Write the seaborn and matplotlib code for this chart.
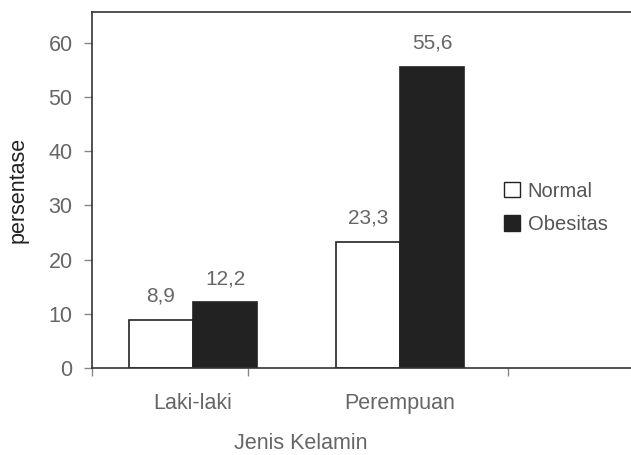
import matplotlib
matplotlib.use("Agg")
import matplotlib.pyplot as plt
import seaborn as sns
import pandas as pd
from matplotlib.patches import Patch
from matplotlib.ticker import FixedLocator

categories = ["Laki-laki", "Perempuan"]
series_names = ["Normal", "Obesitas"]
normal_vals = [8.9, 23.3]
obesitas_vals = [12.2, 55.6]
yticks = [0, 10, 20, 30, 40, 50, 60]

sns.set_theme(style="white")
plt.rcParams['font.family'] = ['Liberation Sans', 'DejaVu Sans']

df = pd.DataFrame({
    "Jenis Kelamin": categories * 2,
    "persentase": normal_vals + obesitas_vals,
    "status": [series_names[0]] * 2 + [series_names[1]] * 2,
})

fig = plt.figure(figsize=(6.31, 4.55), dpi=100)
ax = fig.add_axes([0.1458, 0.1912, 0.854, 0.7824])

sns.barplot(data=df, x="Jenis Kelamin", y="persentase", hue="status",
            palette={"Normal": "white", "Obesitas": "#222222"},
            edgecolor="#222222", linewidth=1.2, width=0.62,
            gap=0, ax=ax, legend=False)

gray = "#666666"
for cont in ax.containers:
    labels = [f"{v:.1f}".replace(".", ",") for v in cont.datavalues]
    ax.bar_label(cont, labels=labels, padding=10, fontsize=15, color="#666666")

ax.set_xlim(-0.488, 2.116)
ax.set_ylim(0, 65.7)
ax.set_yticks(yticks)
ax.tick_params(axis="y", which="major", direction="out", length=6, width=1,
               color="#888888", labelcolor=gray, labelsize=15.5, left=True, pad=8)
ax.tick_params(axis="x", which="major", length=0, labelcolor=gray, labelsize=15.5, pad=18)
ax.xaxis.set_minor_locator(FixedLocator([-0.488, 0.266, 1.52]))
ax.tick_params(axis="x", which="minor", direction="out", length=6, width=1,
               color="#888888", bottom=True)

ax.set_xlabel("Jenis Kelamin", fontsize=15.5, color=gray)
ax.xaxis.set_label_coords(0.388, -0.182)
ax.set_ylabel("persentase", fontsize=15.5, color="#222222")
ax.yaxis.set_label_coords(-0.118, 0.5)

for side in ["left", "bottom", "top"]:
    ax.spines[side].set_visible(True)
    ax.spines[side].set_color("#333333")
    ax.spines[side].set_linewidth(1.2)
ax.spines["right"].set_visible(False)

handles = [Patch(facecolor="white", edgecolor="#222222", label="Normal"),
           Patch(facecolor="#222222", edgecolor="#222222", label="Obesitas")]
ax.legend(handles=handles, loc="center left", bbox_to_anchor=(0.764, 0.45),
          frameon=False, fontsize=14.5, handlelength=0.8, handleheight=0.8,
          handletextpad=0.4, labelspacing=0.7, borderpad=0, borderaxespad=0,
          labelcolor="#555555")

fig.savefig("out.png", dpi=100)
